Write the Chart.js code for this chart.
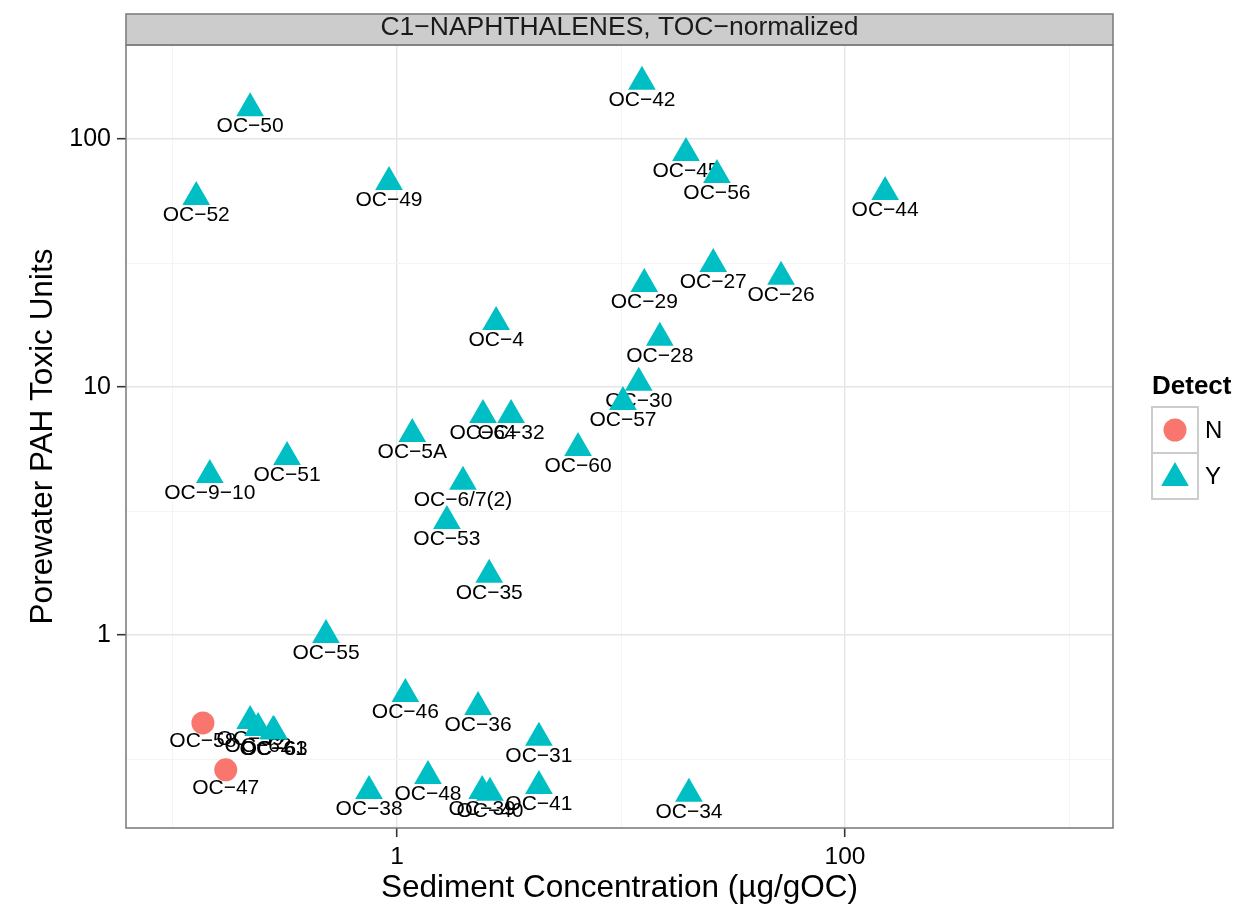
<!DOCTYPE html>
<html>
<head>
<meta charset="utf-8">
<title>C1-NAPHTHALENES, TOC-normalized</title>
<script src="https://cdn.jsdelivr.net/npm/chart.js@4.4.1/dist/chart.umd.min.js"></script>
<style>
  html, body { margin: 0; padding: 0; background: #fff; }
  #wrap { width: 1259px; height: 913px; position: relative; }
</style>
</head>
<body>
<div id="wrap"><canvas id="chart"></canvas></div>
<script>
// === Porewater toxic units vs sediment concentration (log-log) ===

const sites = [
  'OC-50', 'OC-52', 'OC-49', 'OC-42', 'OC-45', 'OC-56', 'OC-44', 'OC-27',
  'OC-26', 'OC-29', 'OC-4', 'OC-28', 'OC-30', 'OC-57', 'OC-5A', 'OC-64',
  'OC-32', 'OC-60', 'OC-9-10', 'OC-51', 'OC-6/7(2)', 'OC-53', 'OC-35', 'OC-55',
  'OC-46', 'OC-36', 'OC-31', 'OC-38', 'OC-48', 'OC-39', 'OC-40', 'OC-41',
  'OC-34', 'OC-58', 'OC-47', 'OC-59', 'OC-62', 'OC-61', 'OC-63'
];
const sedimentConc = [
  0.221, 0.127, 0.921, 12.4, 19.5, 26.8, 151, 25.8,
  51.8, 12.7, 2.77, 14.9, 12.0, 10.2, 1.17, 2.42,
  3.23, 6.43, 0.146, 0.323, 1.97, 1.67, 2.58, 0.482,
  1.09, 2.30, 4.30, 0.75, 1.375, 2.40, 2.60, 4.30,
  20.1, 0.136, 0.172, 0.221, 0.240, 0.280, 0.283
];
const toxicUnits = [
  133, 58.4, 67.1, 170, 87.8, 71.6, 61.1, 31.3,
  27.8, 26.0, 18.3, 15.8, 10.4, 8.7, 6.47, 7.71,
  7.71, 5.68, 4.42, 5.22, 4.15, 2.88, 1.75, 1.0,
  0.578, 0.513, 0.385, 0.235, 0.270, 0.235, 0.231, 0.246,
  0.229, 0.442, 0.286, 0.450, 0.422, 0.410, 0.408
];
const detect = [
  'Y', 'Y', 'Y', 'Y', 'Y', 'Y', 'Y', 'Y',
  'Y', 'Y', 'Y', 'Y', 'Y', 'Y', 'Y', 'Y',
  'Y', 'Y', 'Y', 'Y', 'Y', 'Y', 'Y', 'Y',
  'Y', 'Y', 'Y', 'Y', 'Y', 'Y', 'Y', 'Y',
  'Y', 'N', 'N', 'Y', 'Y', 'Y', 'Y'
];

const detectLevels = ['N', 'Y'];
const xGrid = [0.1, 1, 10, 100, 1000];
const xLabels = [1, 100];
const yGrid = [0.3162, 1, 3.162, 10, 31.62, 100];
const yLabels = [1, 10, 100];
const xRange = [0.0617, 1571];
const yRange = [0.1667, 239.3];

const colors = { N: '#F8766D', Y: '#00BFC4' };
const shapes = { N: 'circle', Y: 'triangle' };
const radii = { N: 11.5, Y: 16 };
const FONT = '"Liberation Sans", Arial, Helvetica, sans-serif';
const minus = s => s.replace(/-/g, '\u2212');

Chart.defaults.font.family = FONT;

const datasets = detectLevels.map(lvl => ({
  label: lvl,
  data: sites
    .map((s, i) => ({ x: sedimentConc[i], y: toxicUnits[i], site: s, d: detect[i] }))
    .filter(p => p.d === lvl),
  backgroundColor: colors[lvl],
  borderWidth: 0,
  pointStyle: shapes[lvl],
  pointRadius: radii[lvl],
  pointHoverRadius: radii[lvl]
}));

// site names sit just under each marker, drawn before the markers
const pointLabels = {
  id: 'pointLabels',
  beforeDatasetsDraw(chart) {
    const ctx = chart.ctx;
    ctx.save();
    ctx.font = '21px ' + FONT;
    ctx.fillStyle = '#000';
    ctx.textAlign = 'center';
    ctx.textBaseline = 'middle';
    chart.data.datasets.forEach((ds, i) => {
      chart.getDatasetMeta(i).data.forEach((el, j) => {
        ctx.fillText(minus(ds.data[j].site), el.x, el.y + 18);
      });
    });
    ctx.restore();
  }
};

// panel border, facet strip and the legend
const ggFrame = {
  id: 'ggFrame',
  afterDatasetsDraw(chart) {
    const { ctx, chartArea: a } = chart;
    ctx.save();
    ctx.fillStyle = '#CCCCCC';
    ctx.fillRect(a.left, 14, a.right - a.left, a.top - 14);
    ctx.strokeStyle = '#7F7F7F';
    ctx.lineWidth = 1.6;
    ctx.strokeRect(a.left, 14, a.right - a.left, a.top - 14);
    ctx.strokeRect(a.left, a.top, a.right - a.left, a.bottom - a.top);

    ctx.fillStyle = '#1A1A1A';
    ctx.font = '26.5px ' + FONT;
    ctx.textAlign = 'center';
    ctx.textBaseline = 'middle';
    ctx.fillText(minus('C1-NAPHTHALENES, TOC-normalized'), (a.left + a.right) / 2, 28);

    // legend
    ctx.fillStyle = '#000';
    ctx.textAlign = 'left';
    ctx.font = 'bold 26px ' + FONT;
    ctx.fillText('Detect', 1152, 387);
    detectLevels.forEach((lvl, i) => {
      const bx = 1152, by = 407 + i * 46;
      ctx.fillStyle = '#fff';
      ctx.fillRect(bx, by, 46, 46);
      ctx.strokeStyle = '#CCCCCC';
      ctx.lineWidth = 2;
      ctx.strokeRect(bx, by, 46, 46);
      const cx = bx + 23, cy = by + 23;
      ctx.fillStyle = colors[lvl];
      ctx.beginPath();
      if (shapes[lvl] === 'circle') {
        ctx.arc(cx, cy, radii[lvl], 0, Math.PI * 2);
      } else {
        const r = radii[lvl], yc = cy + 2;
        let rad = 0;
        ctx.moveTo(cx + Math.sin(rad) * r, yc - Math.cos(rad) * r);
        rad += Math.PI * 2 / 3;
        ctx.lineTo(cx + Math.sin(rad) * r, yc - Math.cos(rad) * r);
        rad += Math.PI * 2 / 3;
        ctx.lineTo(cx + Math.sin(rad) * r, yc - Math.cos(rad) * r);
        ctx.closePath();
      }
      ctx.fill();
      ctx.fillStyle = '#000';
      ctx.font = '24px ' + FONT;
      ctx.fillText(lvl, bx + 53, cy + 1);
    });
    ctx.restore();
  }
};

const isMajor = (v, list) => list.some(m => Math.abs(m - v) < 1e-9);

new Chart(document.getElementById('chart').getContext('2d'), {
  type: 'scatter',
  data: { datasets },
  options: {
    responsive: true,
    maintainAspectRatio: false,
    animation: false,
    layout: { padding: { top: 45, right: 146, left: 0, bottom: 0 } },
    plugins: {
      legend: { display: false },
      tooltip: { enabled: false }
    },
    scales: {
      x: {
        type: 'logarithmic',
        position: 'bottom',
        min: xRange[0],
        max: xRange[1],
        afterBuildTicks: s => { s.ticks = xGrid.map(v => ({ value: v })); },
        afterFit: s => { s.height = 85; },
        ticks: {
          autoSkip: false,
          maxRotation: 0,
          padding: 6,
          color: '#000',
          font: { size: 24.5 },
          callback: v => isMajor(v, xLabels) ? String(v) : ''
        },
        grid: {
          color: c => isMajor(c.tick.value, xLabels) ? '#E5E5E5' : '#F4F4F4',
          lineWidth: c => isMajor(c.tick.value, xLabels) ? 1.4 : 1,
          tickLength: 9,
          tickWidth: 1.6,
          tickColor: c => isMajor(c.tick.value, xLabels) ? '#333333' : 'rgba(0,0,0,0)'
        },
        border: { display: false },
        title: {
          display: true,
          text: 'Sediment Concentration (\u00b5g/gOC)',
          color: '#000',
          font: { size: 31.5 },
          padding: { top: 0, bottom: 6 }
        }
      },
      y: {
        type: 'logarithmic',
        position: 'left',
        min: yRange[0],
        max: yRange[1],
        afterBuildTicks: s => { s.ticks = yGrid.map(v => ({ value: v })); },
        afterFit: s => { s.width = 126; },
        ticks: {
          autoSkip: false,
          padding: 6,
          color: '#000',
          font: { size: 25 },
          callback: v => isMajor(v, yLabels) ? String(v) : ''
        },
        grid: {
          color: c => isMajor(c.tick.value, yLabels) ? '#E5E5E5' : '#F4F4F4',
          lineWidth: c => isMajor(c.tick.value, yLabels) ? 1.4 : 1,
          tickLength: 9,
          tickWidth: 1.6,
          tickColor: c => isMajor(c.tick.value, yLabels) ? '#333333' : 'rgba(0,0,0,0)'
        },
        border: { display: false },
        title: {
          display: true,
          text: 'Porewater PAH Toxic Units',
          color: '#000',
          font: { size: 31.5 },
          padding: { top: 24, bottom: 0 }
        }
      }
    }
  },
  plugins: [pointLabels, ggFrame]
});
</script>
</body>
</html>
